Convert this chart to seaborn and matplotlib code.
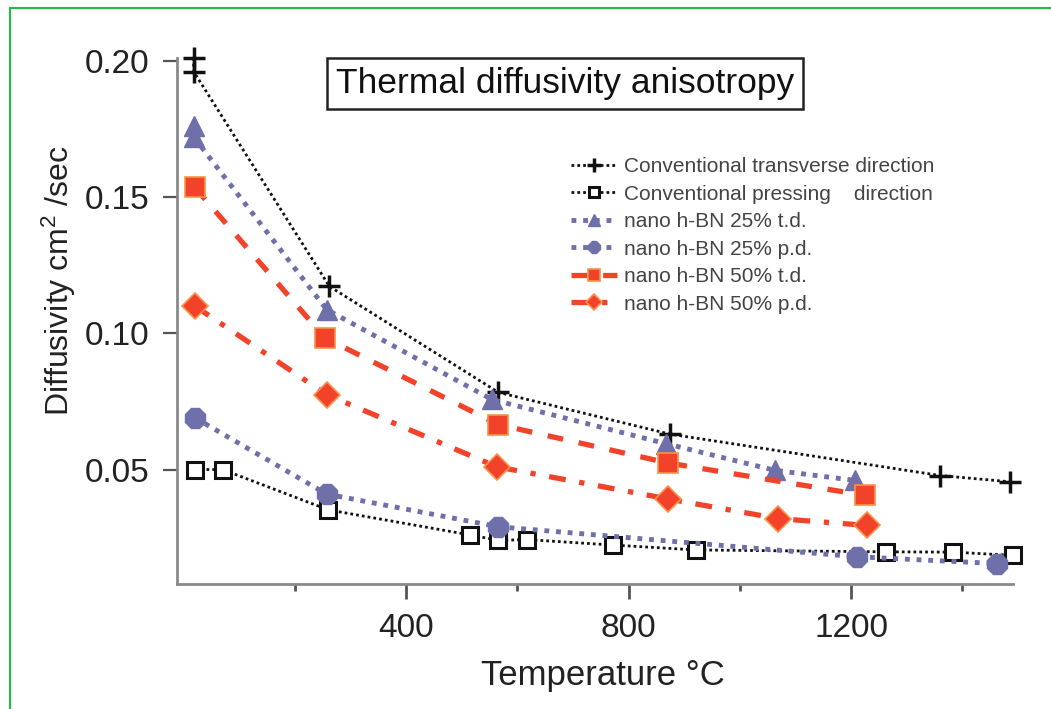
import matplotlib
matplotlib.use("Agg")
import matplotlib.pyplot as plt
import seaborn as sns
import pandas as pd
from matplotlib.patches import Rectangle
from matplotlib.ticker import FixedLocator

sns.set_theme(style="white")
plt.rcParams['font.family'] = ['Liberation Sans', 'DejaVu Sans']
plt.rcParams['mathtext.fontset'] = 'custom'
plt.rcParams['mathtext.rm'] = 'Liberation Sans'
plt.rcParams['mathtext.it'] = 'Liberation Sans:italic'

# ---- data ----
conv_td_T = [18, 18, 262, 566, 874, 1360, 1486]
conv_td_D = [0.2010, 0.1960, 0.1172, 0.0783, 0.0630, 0.0478, 0.0455]

conv_pd_T = [20, 70, 260, 515, 566, 617, 771, 921, 1263, 1383, 1491]
conv_pd_D = [0.0500, 0.0500, 0.0352, 0.0260, 0.0240, 0.0243, 0.0223, 0.0205, 0.0198, 0.0197, 0.0185]

nano25_td_T = [18, 18, 257, 554, 867, 1063, 1207]
nano25_td_D = [0.1760, 0.1720, 0.1087, 0.0757, 0.0595, 0.0497, 0.0460]

nano25_pd_T = [20, 257, 566, 1210, 1462]
nano25_pd_D = [0.0690, 0.0410, 0.0290, 0.0180, 0.0155]

nano50_td_T = [20, 254, 566, 871, 1225]
nano50_td_D = [0.1535, 0.0983, 0.0665, 0.0524, 0.0405]

nano50_pd_T = [20, 257, 563, 871, 1069, 1228]
nano50_pd_D = [0.1100, 0.0775, 0.0510, 0.0392, 0.0320, 0.0295]

labels = ["Conventional transverse direction",
          "Conventional pressing    direction",
          "nano h-BN 25% t.d.",
          "nano h-BN 25% p.d.",
          "nano h-BN 50% t.d.",
          "nano h-BN 50% p.d."]

x_major = [400, 800, 1200]
x_minor = [200, 600, 1000, 1400]
y_ticks = [0.05, 0.10, 0.15, 0.20]
y_ticklabels = ["0.05", "0.10", "0.15", "0.20"]

BLK = "#111111"
BLU = "#6f6fa9"
RED = "#f2422a"
ORG = "#f7934a"

fig = plt.figure(figsize=(10.51, 7.09), dpi=100)
ax = fig.add_axes([177/1051, 1-584/709, (1013-177)/1051, (584-58)/709])

styles = [
    dict(T=conv_td_T, D=conv_td_D, color=BLK, linestyle=(0, (1, 1.1)), lw=2.0,
         marker='+', ms=16, mew=2.5, mfc=BLK, mec=BLK),
    dict(T=conv_pd_T, D=conv_pd_D, color=BLK, linestyle=(0, (1, 1.1)), lw=2.0,
         marker='s', ms=12, mew=2.2, mfc='white', mec=BLK),
    dict(T=nano25_td_T, D=nano25_td_D, color=BLU, linestyle=(0, (1, 1.4)), lw=3.5,
         marker='^', ms=14, mew=1, mfc=BLU, mec=BLU),
    dict(T=nano25_pd_T, D=nano25_pd_D, color=BLU, linestyle=(0, (1, 1.4)), lw=3.5,
         marker='8', ms=15, mew=1, mfc=BLU, mec=BLU),
    dict(T=nano50_td_T, D=nano50_td_D, color=RED, linestyle=(0, (3, 3)), lw=3.8,
         marker='s', ms=14, mew=1.2, mfc=RED, mec=ORG),
    dict(T=nano50_pd_T, D=nano50_pd_D, color=RED, linestyle=(0, (3.2, 2.6, 1, 2.6)), lw=3.8,
         marker='D', ms=13, mew=1.2, mfc=RED, mec=ORG),
]

for st, lab in zip(styles, labels):
    df = pd.DataFrame({"T": st["T"], "D": st["D"]})
    sns.lineplot(data=df, x="T", y="D", ax=ax, estimator=None, sort=False,
                 color=st["color"], linestyle=st["linestyle"], linewidth=st["lw"],
                 marker=st["marker"], markersize=st["ms"], markeredgewidth=st["mew"],
                 markerfacecolor=st["mfc"], markeredgecolor=st["mec"],
                 label=lab, clip_on=False)

ax.set_xlim(-12, 1491)
ax.set_ylim(0.008, 0.201)

for s in ['top', 'right']:
    ax.spines[s].set_visible(False)
for s in ['left', 'bottom']:
    ax.spines[s].set_color('#8a8a8a')
    ax.spines[s].set_linewidth(2)

ax.xaxis.set_major_locator(FixedLocator(x_major))
ax.xaxis.set_minor_locator(FixedLocator(x_minor))
ax.set_yticks(y_ticks)
ax.set_yticklabels(y_ticklabels)
ax.tick_params(axis='x', which='major', direction='out', length=11, width=2,
               color='#555555', labelsize=24, pad=10, bottom=True)
ax.tick_params(axis='x', which='minor', direction='out', length=5, width=2,
               color='#555555', bottom=True)
ax.tick_params(axis='y', which='major', direction='out', length=10, width=1.6,
               color='#555555', labelsize=24, pad=10, left=True)
for t in ax.get_xticklabels() + ax.get_yticklabels():
    t.set_color('#222222')

ax.set_xlabel("Temperature °C", fontsize=25, color='#222222')
ax.set_ylabel("Diffusivity cm$^2$ /sec", fontsize=23, color='#222222')
ax.xaxis.set_label_coords(0.51, -0.143)
ax.yaxis.set_label_coords(-0.118, 0.576)

# title box
ax.text(0.464, 0.952, "Thermal diffusivity anisotropy", transform=ax.transAxes,
        fontsize=25.5, ha='center', va='center', color='#111111',
        bbox=dict(boxstyle='square,pad=0.25', facecolor='white', edgecolor='#222222', linewidth=1.8))

handles = ax.get_lines()[:6]
leg = ax.legend(handles=handles, labels=labels, loc='upper left',
                bbox_to_anchor=(571/1051, 1-157/709), bbox_transform=fig.transFigure,
                frameon=False, fontsize=15, handlelength=2.2, handletextpad=0.34,
                labelspacing=0.41, borderpad=0, borderaxespad=0, markerscale=0.62)
for t in leg.get_texts():
    t.set_color('#444444')

# green frame
fig.add_artist(Rectangle((10/1051, -0.05), 1.2, (1-8/709) + 0.05, transform=fig.transFigure,
                         fill=False, edgecolor='#22bb44', linewidth=1.5))

fig.savefig("out.png", dpi=100)
